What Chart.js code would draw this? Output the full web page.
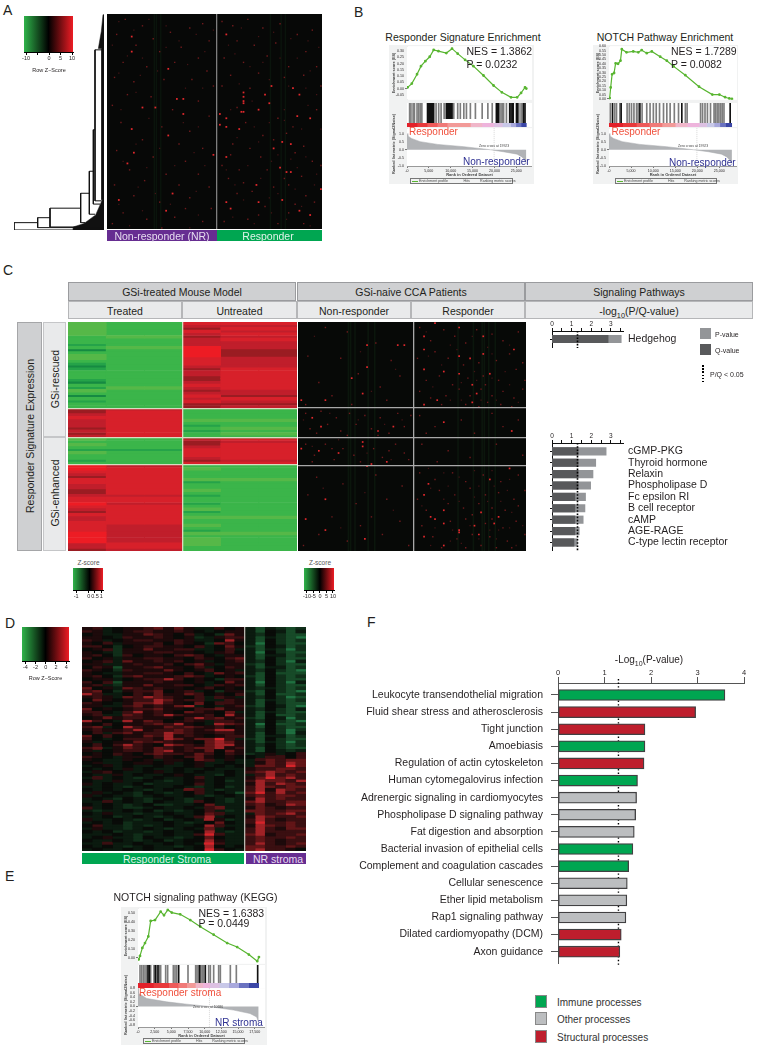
<!DOCTYPE html>
<html>
<head>
<meta charset="utf-8">
<title>Responder signature figure</title>
<script src="https://cdn.jsdelivr.net/npm/chart.js@4/dist/chart.umd.js"></script>
<style>
html,body{margin:0;background:#fff}
#page{position:relative;width:757px;height:1050px;overflow:hidden;font-family:"Liberation Sans",Arial,sans-serif;color:#231f20}
canvas{position:absolute}
.t{position:absolute;white-space:nowrap}
.b{position:absolute;box-sizing:border-box}
sub{font-size:70%;line-height:0}
</style>
</head>
<body>
<div id="page"></div>
<script>
// panel F
const fPathways = ['Leukocyte transendothelial migration','Fluid shear stress and atherosclerosis','Tight junction','Amoebiasis','Regulation of actin cytoskeleton','Human cytomegalovirus infection','Adrenergic signaling in cardiomyocytes','Phospholipase D signaling pathway','Fat digestion and absorption','Bacterial invasion of epithelial cells','Complement and coagulation cascades','Cellular senescence','Ether lipid metabolism','Rap1 signaling pathway','Dilated cardiomyopathy (DCM)','Axon guidance'];
const fValues = [3.59,2.96,1.87,1.87,1.85,1.71,1.69,1.67,1.64,1.61,1.52,1.49,1.48,1.46,1.36,1.33];
const fGroups = ['I','S','S','I','S','I','O','O','O','I','I','O','O','O','S','S'];
const fTicks = [0,1,2,3,4];

// panel C pathway bars
const hedgehogNames = ['Hedgehog'];
const hedgehogP = [3.53];
const hedgehogQ = [2.86];
const pathwayNames = ['cGMP-PKG','Thyroid hormone','Relaxin','Phospholipase D','Fc epsilon RI','B cell receptor','cAMP','AGE-RAGE','C-type lectin receptor'];
const pathwayP = [2.76,2.23,2.09,1.97,1.71,1.68,1.59,1.39,1.29];
const pathwayQ = [1.33,1.33,1.33,1.33,1.17,1.17,1.17,1.17,1.12];
const pathwayTicks = [0,0.5,1,1.5,2,2.5,3,3.5];

// GSEA curves, rank and enrichment score
const es1Rank = [150,1100,2300,3200,4200,5200,6100,7200,9000,10300,11600,13300,15200,17500,19800,21700,23800,25200,26100,27000,27300];
const es1Score = [0.01,0.04,0.115,0.18,0.22,0.255,0.31,0.30,0.285,0.32,0.28,0.23,0.18,0.105,0.025,-0.03,-0.07,-0.07,-0.035,0.01,0];
const es2Rank = [150,380,700,1150,1500,2050,2600,2900,3970,5500,6640,7400,8550,9700,11600,13100,14650,17300,20400,23400,25000,26300,27250,27850];
const es2Score = [0.01,0.13,0.28,0.295,0.405,0.40,0.435,0.565,0.53,0.54,0.53,0.555,0.52,0.54,0.48,0.435,0.37,0.27,0.14,0.05,0.05,0.02,0.005,0];
const es3Rank = [100,300,650,1050,1550,1900,2550,3400,3900,4470,5070,6330,7840,9350,11350,13370,14870,16630,17890,18140];
const es3Score = [-0.02,0.02,0.11,0.165,0.24,0.415,0.425,0.52,0.48,0.54,0.51,0.49,0.425,0.35,0.26,0.165,0.12,0.035,-0.04,0.007];

// GSEA hit positions
const hits1Dark = [4700,5000,5200,5400,5650,5900,6100,9000,9250,9450,9700,9900,10150,10300,20450,20700,21000,23500,23800,24100,24300,25050,25300,26700,27000];
const hits1Gray = [600,900,1400,1700,2300,2700,3050,3400,6650,7250,7800,8500,10700,11600,12200,13000,13600,14500,15650,17200,18500,19500,21500,21800,22100,22750,25600,26100,26400];
const hits2Dark = [800,2750,7000,16500,27450];
const hits2Gray = [300,1300,1700,2450,4100,4600,5100,5650,6250,6600,7500,8550,9300,10050,10700,11450,12350,13100,13850,14800,15750,17300,17700,20750,21200,21750,22300,23000,23800,24100,24500,24900,25300,25650,26050];
const hits3Dark = [1500,1700,2600,3000,6100,9250,10100,17950];
const hits3Gray = [300,550,800,1050,1300,1900,2400,2800,3200,3400,4150,4450,5300,5550,5800,7500,8650,8850,9050,9450,9650,9850,10600,10850,11350,12100,12350,13850,14750];

// GSEA colour strip
const stripColors = ['#e3202a','#e8393b','#ee5a5a','#f07a78','#f29a98','#f0b6c9','#eeb4dc','#dcc0e2','#c8c8e8','#a8a8dc','#6a72c0','#3b46a6'];
const strip1 = [2300,2300,2300,2300,5300,2650,2650,2000,1900,1200,1200,1200];
const strip2 = [3100,3100,2900,2900,3000,2700,2700,1700,1700,1300,1300,1400];
const strip3 = [2300,2300,1400,1300,1300,1100,1050,1450,1400,1500,1500,1500];

// GSEA ranked metric
const metric1Rank = [0,200,1000,3000,7000,13000,19100,22000,25200,26300,27000,27300];
const metric1Value = [1,0.85,0.7,0.5,0.33,0.19,0,-0.12,-0.27,-0.44,-0.65,-0.85];
const metric2Rank = [0,200,1000,3000,7000,13000,19200,22500,25500,26700,27400,27850];
const metric2Value = [1,0.85,0.7,0.5,0.33,0.19,0,-0.12,-0.27,-0.44,-0.65,-0.85];
const metric3Rank = [0,50,1300,4300,7300,10600,14350,16800,17800,18100];
const metric3Value = [0.8,0.58,0.35,0.2,0.1,0,-0.16,-0.31,-0.46,-0.7];

// panel A heatmap cells, [column,row]
const aBright = [[11,10],[11,17],[28,25],[32,39],[35,46],[28,56],[22,43],[16,43],[11,53],[12,64],[5,86],[30,83],[27,91],[35,39],[9,69],[49,65],[55,9],[63,36],[63,38],[63,40],[63,41],[63,45],[62,45],[55,48],[55,52],[52,51],[61,53],[55,66],[76,33],[89,37],[81,59],[77,62],[83,73],[85,73],[80,71],[69,79],[81,86],[55,87],[57,90],[89,91],[94,93],[70,87],[94,48],[75,41],[70,44],[88,47],[85,60],[52,46],[86,34],[73,37],[99,81]];
const aDim = [[8,2],[4,9],[16,5],[21,11],[29,8],[38,6],[44,4],[47,12],[13,14],[24,17],[34,15],[42,20],[7,22],[18,24],[31,22],[46,26],[3,29],[12,31],[26,30],[39,30],[49,33],[9,37],[20,38],[2,42],[30,44],[42,40],[47,47],[6,50],[25,52],[38,54],[16,58],[33,60],[44,62],[4,63],[21,66],[36,68],[10,72],[27,74],[42,74],[17,77],[3,79],[33,79],[47,80],[12,84],[24,87],[38,85],[7,92],[18,95],[31,94],[44,96],[36,90],[2,97],[25,99],[48,90],[53,3],[58,5],[65,2],[72,6],[80,4],[88,9],[95,7],[60,12],[68,14],[78,13],[92,17],[54,20],[63,22],[74,19],[84,24],[97,24],[57,28],[70,27],[82,29],[91,28],[53,33],[66,34],[99,33],[60,43],[79,48],[86,52],[97,44],[64,50],[72,56],[77,58],[83,55],[91,61],[58,60],[66,62],[71,66],[87,64],[95,68],[53,70],[61,72],[74,72],[82,76],[90,75],[56,76],[67,82],[77,80],[84,79],[92,84],[60,83],[73,89],[87,88],[96,87],[54,96],[65,95],[79,97],[91,97],[70,93],[84,92],[99,70],[63,78],[57,65]];
const aFaint = [[5,3],[12,7],[19,2],[27,5],[33,12],[41,9],[49,7],[2,14],[9,19],[16,20],[27,15],[37,23],[45,17],[5,27],[15,28],[23,26],[36,34],[44,34],[13,36],[6,44],[19,48],[35,50],[42,52],[13,60],[24,62],[40,64],[7,68],[18,71],[31,70],[45,70],[14,80],[22,83],[41,82],[5,88],[29,88],[16,91],[42,93],[10,98],[38,99],[56,14],[62,6],[70,10],[77,8],[85,11],[93,12],[98,15],[59,18],[66,24],[72,22],[80,20],[88,20],[94,26],[61,32],[75,30],[84,33],[92,34],[97,37],[67,40],[82,44],[93,42],[57,44],[68,52],[75,50],[82,49],[90,53],[99,53],[60,57],[70,59],[79,65],[85,67],[92,66],[55,72],[65,70],[76,68],[88,71],[97,74],[59,79],[71,76],[79,83],[87,81],[96,79],[63,86],[75,85],[90,89],[58,94],[68,97],[76,92],[83,95],[94,98]];
const aGreenColumns = [22,23,25,76,81,83];

// panel C patient heatmap cells, [column,row]
const pBright = [[1,35],[12,35],[29,32],[6,43],[10,47],[29,54],[29,56],[1,57],[9,58],[33,64],[31,65],[40,63],[18,59],[12,94],[30,98],[3,89],[12,80],[36,49],[43,47],[24,25],[31,20],[31,10],[48,10],[45,10],[57,6],[62,0],[73,2],[84,6],[57,12],[98,12],[84,14],[73,15],[78,16],[57,21],[66,22],[73,23],[87,23],[79,28],[81,32],[57,37],[63,35],[79,36],[66,45],[97,49],[59,73],[57,78],[87,71],[96,66],[66,85],[60,88],[62,89],[66,91],[80,92],[73,94],[73,95],[57,97],[66,101],[82,96],[91,88],[89,91],[83,86]];
const pDim = [[12,2],[22,4],[35,9],[4,15],[19,16],[42,17],[27,23],[9,27],[37,29],[46,24],[15,33],[3,37],[24,37],[40,35],[3,41],[10,40],[17,43],[23,41],[30,42],[37,43],[45,41],[51,42],[5,48],[13,46],[19,49],[26,46],[33,48],[41,50],[48,47],[8,50],[22,51],[36,51],[3,55],[7,60],[12,55],[16,62],[20,57],[25,60],[34,57],[38,61],[44,55],[48,59],[6,63],[15,57],[28,63],[41,58],[50,62],[8,70],[20,73],[35,69],[47,74],[4,78],[26,82],[40,80],[15,88],[33,88],[46,90],[9,96],[22,99],[38,96],[50,101],[28,92],[2,101],[55,2],[60,8],[66,3],[71,6],[76,9],[81,3],[88,5],[93,8],[100,4],[54,16],[62,13],[68,16],[75,19],[82,18],[90,17],[96,14],[102,18],[58,26],[64,24],[70,28],[77,25],[84,24],[85,28],[91,26],[99,21],[103,26],[55,31],[60,34],[67,33],[73,30],[78,33],[83,30],[88,33],[93,31],[98,34],[102,30],[65,37],[76,37],[82,38],[86,36],[92,37],[97,38],[55,42],[62,47],[74,44],[88,41],[100,44],[58,50],[80,50],[93,47],[56,55],[68,58],[78,61],[90,55],[102,60],[63,63],[55,68],[62,71],[70,68],[76,72],[84,69],[92,72],[100,69],[54,80],[64,76],[71,78],[78,75],[85,78],[91,77],[98,80],[103,76],[58,85],[68,82],[75,84],[82,82],[88,84],[94,85],[100,83],[56,92],[69,90],[76,89],[85,91],[93,93],[99,90],[61,97],[72,98],[79,96],[87,97],[95,99],[103,96],[65,102],[76,102],[90,102],[83,101],[97,102],[79,87],[88,89]];
const pFaint = [[7,6],[28,13],[44,21],[33,31],[2,44],[14,41],[27,44],[39,46],[47,44],[6,56],[18,53],[31,59],[42,62],[11,75],[30,77],[43,85],[19,93],[58,4],[69,10],[79,6],[86,11],[96,10],[59,15],[72,12],[88,14],[65,19],[80,22],[94,22],[61,29],[74,27],[81,26],[88,25],[96,28],[69,35],[74,35],[83,35],[90,35],[100,36],[59,66],[66,68],[73,70],[80,67],[88,67],[96,71],[60,75],[68,74],[82,74],[89,74],[95,76],[56,83],[66,80],[73,81],[80,79],[86,81],[92,81],[97,86],[62,93],[70,94],[78,92],[87,94],[91,94],[96,93],[102,92],[69,99],[82,98],[90,98],[74,100],[60,101],[99,101]];
const pGreenColumns = [23,24,26,32,35,73,80,84,85,87,90];

// panel C mouse model heatmap, one letter per row
const mouseT1 = 'lllllmmmnmomllmnonmmmnomnlmomnmm'+'UUTSTTTUTUT'+'lmlmnlmmnm'+'RRSTUSSTTUUTSSRSTUSTTSSSSRRRRTTU';
const mouseT2 = 'mmmmmlmmmlmmmmmmmmmmmmmmlmmmmmmm'+'TSSSSSSSSSS'+'mmmmnmmmmm'+'TSSSSSSSSSSTSSTSSSSSSSTTTTTTTSST';
const mouseU1 = 'STUSTUTTTRRRRSSSTUTTUUTSTUTSTSUU'+'mmmmlmnmnmm'+'TUUTSSSTUS'+'mlmmmlnmmlmnmmnmlnmlmmlmnlmlllmm';
const mouseU2 = 'STSTSTSTTTUUUTTTTSSSSSSSSTTUSTUT'+'mmmmlmmlmlm'+'STSSSSSSTS'+'mmmmmlmmmmmmmmmmmmmlmmmmmlmmmmmm';
const mouseColumns = [mouseT1,mouseT2,mouseT2,mouseU1,mouseU2,mouseU2];
const mouseShades = {l:'#56b848',m:'#3bb54a',n:'#25a349',o:'#168a42',R:'#ed1c24',S:'#d7202a',T:'#c01e2b',U:'#9a1c22'};

// panel D heatmap, 16 responder and 6 NR columns, one string per row
const dRows = [
'abh.aabcacahhb.a|hjhiji','bah.abbaaba.h.aa|hj.hjh','.ahhaacba.bh.ica|hi.ijj','aa.hbaaba.aihabb|hjhijk',
'bah.abbaabahh.da|hj.iji','a.bhaaab.ba.icb.|hk.ijj','bb.i.abbaa.bh.ca|ij.hji','.abiaacaabbhh.bh|hjhiki',
'a.hiaaabbaa.hab.|hk.ijj','ab.ib.aa.bcb.haa|hjhhji','b.ahaabbaa.ba.bc|hj.ijj','.abhcaabab.ah.ab|hi.ikh',
'aahhabaab.bcahaa|ij.ijj','.bajaabcaa.bh.ba|hjhhji','ba.ibaaaca.ab.ah|hi.ijk','a.hhaabba.b.hcab|hj.jjj',
'ab.ibcaaabcbh.a.|ij.iji','.aah.abbdb.a.ibb|hj.ijj','b.bjaaabaa.ah.ca|hk.ikh','abhiaacaabb.hbab|hj.ijj',
'c.ahcbabaa.ab.a.|hihiji','bc.iabbc.abh.iaa|ij.ijk','dbhh.bacaacb.a.b|hj.jji','abahcbdcba.bhbah|hi.ikj',
'.ca.abbdcabbhhba|hjhiji','ba.haccdba.c.bba|hj.ijj','aahhbcabacdh.hab|ij.hjk','c.a.abbcaa.bbcaa|hi.ijh',
'bb.hbdaba.cba.ch|hjhijj','abhhcbabdbaab.da|hj.jji','.acabbaaa.bdbcab|ij.hki','db.hdacb.abahbba|hi.ijk',
'a.b.aabcbda.hdcb|hk.jji','bch.dbaacbcbab.a|hj.ijj','abaabdabbcbabdda|hi.iki','.bhbcabbdcbaabba|hj.ikh',
'c.b.aacbdaba.abb|hjhhji','b.h.bbbadcaccebh|ij.ijj','ah.aacbcbaa.cdca|hjhiki','.b.bdba.dcbacdda|hi.iji',
'bchacbacbabccdab|hj.ijj','ah.abbacdabac.ca|hj.hih','.a.ba.bcbbacb.ba|ihah.b','ba.haa.ba.bca.a.|.hbb.b',
'a.hha.ahaa.cbhah|hbcbcc','.ahh.aa.ah.ahh.h|hacbdc','h.ah.hh.hh.ah.h.|hccbec','.h.hah.hh.hh.hhh|abbccb',
'hab.hh.ah.h.hh.h|bcdcbc','.hhah.hh.a.hhi.h|hbdbcb','hbh.hih.hh.bh.hh|acecdb','.hhahh.hih.ah.ih|bdccbd',
'ah.hh.ihhh.bh.hh|adbdcb','hh.hih.hh.hih.ih|bdcbcc','.h.h.hih.hcbhihh|bdadcb','hah.hi.hih.bh.hj|cebdbc',
'ah.hhih.hh.hih.h|bcbccb','h.hi.hih.hih.hih|adbcbb','hhbh.hi.hhib.hih|cdbbcc','.h.hih.iihh.chhh|bcabdc',
'bh.hiih.hh.hbchh|acbabb','hihh.h.ihih.bhih|ccbbcc','.hahhihh.hh.cbhh|hcbcdb','hh.ih.hih.hbdh.h|adcbbc',
'ahh.hih.ih.hdaih|bdbabb','h.h.ihhh.hih.c.h|bebbcb','.bhhihih.hh.dbhh|adcbcb','hahhih.hih.hch.h|bdbacc',
'.h.ihhih.hh.dhih|bdbbbb','hhh.hihh.hhbebhh|cdabbc','h.ahhi.hhih.c.hh|bcbbcb','.hh.hih.ih..dahh|bcbabb',
'hhbhh.hh.h.hebhh|bdbabc','.h.hih.hhih.d.h.|ccbbcb','h.hh.h.hh.h.eb.h|cdbba.'];
const dShades = {'.':'#090b08',a:'#1d0a0b',b:'#3a0f11',c:'#621517',d:'#a02226',e:'#d6242a',h:'#0b1a0f',i:'#102e19',j:'#174a28',k:'#1f7040'};

// dendrogram, [height,row] polylines
const dendroLinks = [
[[199,96.6],[270,96.6],[270,100],[0,100]],
[[162,94.3],[199,94.3],[199,98.9],[0,98.9]],
[[70,89.9],[162,89.9],[162,98.6],[0,98.6]],
[[44,83],[70,83],[70,96.6],[57,96.6]],
[[32,72.8],[44,72.8],[44,92.7],[27,92.7]],
[[27,53.6],[32,53.6],[32,88],[12,88]],
[[7,16.6],[27,16.6],[27,86.5],[7,86.5]]];
const dendroWedges = [
[[0,0.3],[3,0.3],[8,8],[17,16],[7,16],[7,86],[5,86],[25,93],[60,97],[92,98.6],[92,100],[0,100]]];

const page = document.getElementById('page');
Chart.defaults.responsive = false;
Chart.defaults.maintainAspectRatio = false;
Chart.defaults.animation = false;
Chart.defaults.layout.autoPadding = false;
Chart.defaults.plugins.legend.display = false;
Chart.defaults.plugins.tooltip.enabled = false;
Chart.defaults.font.family = '"Liberation Sans", Arial, sans-serif';
Chart.defaults.color = '#231f20';

Chart.register({
    id: 'plotBg',
    beforeDatasetsDraw(chart, args, opts) {
        if (!opts.color) return;
        const a = chart.chartArea;
        chart.ctx.save();
        chart.ctx.fillStyle = opts.color;
        chart.ctx.fillRect(a.left, a.top, a.width, a.height);
        chart.ctx.restore();
    }
});

function marker(chart, opts) {
    const a = chart.chartArea;
    const px = chart.scales.x.getPixelForValue(opts.value);
    const c = chart.ctx;
    c.save();
    c.strokeStyle = opts.color || '#000';
    c.lineWidth = opts.width || 1;
    c.setLineDash(opts.dash || [1.5, 1.5]);
    c.beginPath();
    c.moveTo(px, a.top - (opts.top || 0));
    c.lineTo(px, a.bottom + (opts.bottom || 0));
    c.stroke();
    c.restore();
}
Chart.register({
    id: 'marker',
    beforeDatasetsDraw(chart, args, opts) { if (opts.value !== undefined && opts.under) marker(chart, opts); },
    afterDatasetsDraw(chart, args, opts) { if (opts.value !== undefined && !opts.under) marker(chart, opts); }
});

function label(txt, x, y, size, o) {
    o = o || {};
    const d = document.createElement('div');
    d.className = 't';
    d.innerHTML = txt;
    d.style.left = x + 'px';
    d.style.top = y + 'px';
    d.style.fontSize = size + 'px';
    if (o.color) d.style.color = o.color;
    if (o.weight) d.style.fontWeight = o.weight;
    const tx = o.align === 'c' ? '-50%' : o.align === 'r' ? '-100%' : '0';
    d.style.transform = 'translate(' + tx + ',-50%)' + (o.rot ? ' rotate(' + o.rot + 'deg)' : '');
    page.appendChild(d);
}
function box(x, y, w, h, bg, border) {
    const d = document.createElement('div');
    d.className = 'b';
    d.style.cssText = 'left:' + x + 'px;top:' + y + 'px;width:' + w + 'px;height:' + h + 'px;background:' + bg + (border ? ';border:1px solid ' + border : '');
    page.appendChild(d);
}
function draw(x, y, w, h, cfg) {
    const c = document.createElement('canvas');
    c.width = w;
    c.height = h;
    c.style.left = x + 'px';
    c.style.top = y + 'px';
    page.appendChild(c);
    return new Chart(c, cfg);
}
function pts(xs, ys) { return xs.map((v, i) => ({x: v, y: ys[i]})); }
function stepTicks(min, max, step) {
    const out = [];
    for (let k = Math.ceil(min / step - 1e-9); k * step <= max + 1e-9; k++) out.push({value: k * step});
    return out;
}
function hidden(min, max, extra) {
    return Object.assign({type: 'linear', display: false, min: min, max: max, offset: false, grid: {offset: false}}, extra || {});
}
// axis that only draws divider lines over the cells
function dividers(min, max, lines, color, reverse) {
    return {
        type: 'linear', min: min, max: max, reverse: !!reverse, offset: false,
        afterBuildTicks: s => { s.ticks = lines.map(v => ({value: v})); },
        afterFit: s => { if (s.isHorizontal()) s.height = 0; else s.width = 0; },
        ticks: {display: false},
        border: {display: false},
        grid: {offset: false, z: 1, color: color, lineWidth: 1.3, drawTicks: false}
    };
}
function cellBars(shades, cellAt, cols, rows) {
    return Object.keys(shades).map(ch => {
        const data = [];
        for (let c = 0; c < cols; c++) {
            for (let r = 0; r < rows; r++) {
                if (cellAt(c, r) === ch) data.push({x: c + 0.5, y: [r, r + 1]});
            }
        }
        return {data: data, backgroundColor: shades[ch], grouped: false, barPercentage: 1, categoryPercentage: 1, borderWidth: 0};
    });
}
function dotSet(cells, color, radius) {
    return {data: cells.map(c => ({x: c[0] + 0.5, y: c[1] + 0.5})), backgroundColor: color, pointStyle: 'rect', pointRadius: radius, pointBorderWidth: 0};
}
function columnBands(cols, rows, color, width) {
    return cols.map(c => ({data: [{x: c, y: 0}, {x: c, y: rows}], showLine: true, borderColor: color, borderWidth: width, pointRadius: 0}));
}
function colorKey(x, y, w, h, min, max, ticks, black, tickLabels) {
    const green = '#2fb34a', red = '#ed1c24';
    draw(x - 8, y, w + 16, h + 16, {
        type: 'bar',
        data: {labels: ['key'], datasets: [{
            data: [[min, max]],
            barPercentage: 1, categoryPercentage: 1,
            backgroundColor(ctx) {
                const a = ctx.chart.chartArea;
                if (!a) return '#000';
                const g = ctx.chart.ctx.createLinearGradient(a.left, 0, a.right, 0);
                g.addColorStop(0, green);
                g.addColorStop(black, '#000');
                g.addColorStop(1, red);
                return g;
            }
        }]},
        options: {
            indexAxis: 'y',
            layout: {padding: {left: 8, right: 8}},
            scales: {
                y: {display: false},
                x: {
                    type: 'linear', min: min, max: max,
                    afterBuildTicks: s => { s.ticks = ticks.map(v => ({value: v})); },
                    afterFit: s => { s.height = 16; },
                    ticks: {font: {size: 5.5}, padding: 0, maxRotation: 0, autoSkip: false, callback: v => tickLabels.includes(v) ? String(v) : ''},
                    border: {color: '#000'},
                    grid: {drawOnChartArea: false, tickLength: 3, color: '#000', offset: false}
                }
            }
        }
    });
}

function gsea(g) {
    box(g.panel[0], g.panel[1], g.panel[2], g.panel[3], '#f1f2f2');
    const w = g.x1 - g.x0;
    const tickFont = {size: 3.6};
    const yAxis = (min, max, step, digits) => ({
        type: 'linear', min: min, max: max,
        afterBuildTicks: s => { s.ticks = stepTicks(min, max, step); },
        afterFit: s => { s.width = 14; },
        ticks: {font: tickFont, padding: 1, autoSkip: false, callback: v => v.toFixed(digits)},
        border: {color: '#999'},
        grid: {tickLength: 2, color: c => Math.abs(c.tick.value) < 1e-6 ? '#777' : '#f2f2f2'}
    });
    draw(g.x0 - 14, g.esTop - 3, w + 14, g.esBot - g.esTop + 6, {
        type: 'line',
        data: {datasets: [{data: pts(g.esRank, g.esScore), borderColor: '#58b530', borderWidth: 1.2, backgroundColor: '#58b530', pointRadius: 0.8, tension: 0}]},
        options: {
            layout: {padding: {top: 3, bottom: 3}},
            plugins: {plotBg: {color: '#fff'}},
            scales: {x: hidden(0, g.xMax), y: yAxis(g.esMin, g.esMax, g.esStep, 2)}
        }
    });
    const hitSet = (list, color) => ({data: list.map(v => ({x: v, y: 1})), backgroundColor: color, barThickness: 1, borderWidth: 0});
    draw(g.x0, g.hitsTop, w, g.stripTop - g.hitsTop, {
        type: 'bar',
        data: {datasets: [hitSet(g.hitsDark, '#111'), hitSet(g.hitsGray, '#7d7d7d')]},
        options: {
            plugins: {plotBg: {color: '#fff'}},
            datasets: {bar: {grouped: false}},
            scales: {x: hidden(0, g.xMax), y: hidden(0, 1)}
        }
    });
    draw(g.x0, g.stripTop, w, g.stripBot - g.stripTop, {
        type: 'bar',
        data: {labels: ['rank'], datasets: g.strip.map((v, i) => ({data: [v], backgroundColor: stripColors[i], barPercentage: 1, categoryPercentage: 1, borderWidth: 0}))},
        options: {
            indexAxis: 'y',
            plugins: {plotBg: {color: '#fff'}},
            scales: {
                x: {type: 'linear', display: false, stacked: true, min: 0, max: g.xMax},
                y: {display: false, stacked: true}
            }
        }
    });
    draw(g.x0 - 14, g.metTop - 3, w + 14, g.metBot - g.metTop + 11, {
        type: 'line',
        data: {datasets: [{data: pts(g.metRank, g.metValue), borderColor: '#a7a9ac', borderWidth: 0.5, backgroundColor: '#b1b3b6', fill: 'origin', pointRadius: 0, tension: 0}]},
        options: {
            layout: {padding: {top: 3}},
            plugins: {plotBg: {color: '#fff'}, marker: {value: g.zeroCross, color: '#bbb', width: 0.6, dash: [1, 1]}},
            scales: {
                x: {
                    type: 'linear', min: 0, max: g.xMax,
                    afterBuildTicks: s => { s.ticks = stepTicks(0, g.xMax, g.rankStep); },
                    afterFit: s => { s.height = 8; },
                    ticks: {font: tickFont, padding: 1, maxRotation: 0, autoSkip: false, callback: v => v.toLocaleString('en-US')},
                    border: {color: '#999'},
                    grid: {drawOnChartArea: false, tickLength: 2, color: '#777'}
                },
                y: yAxis(g.metMin, g.metMax, g.metStep, 1)
            }
        }
    });
    const left = g.panel[0] + 5;
    label('Enrichment score (ES)', left, (g.esTop + g.esBot) / 2, 3.8, {align: 'c', rot: -90, weight: 700, color: '#444'});
    label('Ranked list metric (Signal2Noise)', left, (g.metTop + g.metBot) / 2 - 3, 3.8, {align: 'c', rot: -90, weight: 700, color: '#444'});
    label('Zero cross at ' + g.zeroCross, g.zeroX, g.zeroY, 3.4, {align: 'c', color: '#444'});
    label('Rank in Ordered Dataset', (g.x0 + g.x1) / 2, g.metBot + 8, 4, {align: 'c', weight: 700, color: '#444'});
    box(g.legend[0], g.legend[1], g.legend[2], g.legend[3], '#f1f2f2', '#777');
    const ly = g.legend[1] + g.legend[3] / 2;
    box(g.legend[0] + 2, ly - 0.5, 6, 1, '#58b530');
    label('Enrichment profile', g.legend[0] + 9, ly, 3.6, {color: '#444'});
    label('Hits', g.legend[0] + g.legend[2] * 0.52, ly, 3.6, {color: '#444'});
    label('Ranking metric scores', g.legend[0] + g.legend[2] * 0.68, ly, 3.6, {color: '#444'});
    label(g.title, g.titleX, g.titleY, 10.5, {align: 'c'});
    label(g.nes, g.nesX, g.nesY, 10.5);
    label(g.p, g.nesX, g.pY, 10.5);
    label(g.up, g.upX, g.upY, 10, {color: '#f0503c'});
    label(g.down, g.downX, g.downY, 10, {color: '#2e3192'});
}

// ---- panel letters
label('A', 3, 10, 14);
label('B', 354, 12, 14);
label('C', 3, 270, 14);
label('D', 5, 623, 14);
label('E', 5, 876, 14);
label('F', 367, 622, 14);

// ---- panel A
colorKey(24, 16, 49, 36, -10.9, 10.4, [-10, -5, 0, 5, 10], 0.5, [-10, 0, 5, 10]);
label('Row Z−Score', 49, 70, 5.5, {align: 'c'});
draw(14, 14, 90, 216, {
    type: 'scatter',
    data: {datasets: dendroLinks.map(p => ({data: p.map(q => ({x: q[0], y: q[1]})), showLine: true, borderColor: '#111', borderWidth: 1, pointRadius: 0}))
        .concat(dendroWedges.map(p => ({data: p.map(q => ({x: q[0], y: q[1]})), showLine: true, fill: 'shape', backgroundColor: '#111', borderColor: '#111', borderWidth: 0.5, pointRadius: 0})))},
    options: {scales: {x: hidden(0, 270, {reverse: true}), y: hidden(0, 100, {reverse: true})}}
});
draw(107, 14, 215, 215, {
    type: 'scatter',
    data: {datasets: [dotSet(aBright, '#e0282c', 1.25), dotSet(aDim, '#6e1a1c', 1), dotSet(aFaint, '#431416', 0.9)]
        .concat(columnBands(aGreenColumns, 100, '#0a140c', 1.4))},
    options: {
        plugins: {plotBg: {color: '#070807'}},
        scales: {x: dividers(0, 100, [51], '#7e7e7e'), y: dividers(0, 100, [], '#000', true)}
    }
});
box(107, 230, 110, 11, '#662d91');
box(217, 230, 105, 11, '#00a651');
label('Non-responder (NR)', 162, 235.5, 10.5, {align: 'c', color: '#e6dcef'});
label('Responder', 268, 235.5, 10.5, {align: 'c', color: '#dff3e8'});

// ---- panel B
gsea({
    panel: [389, 45, 145, 139], x0: 407, x1: 532, esTop: 46, esBot: 100, hitsTop: 103, stripTop: 123, stripBot: 127, metTop: 128, metBot: 166,
    xMax: 28600, esMin: -0.09, esMax: 0.34, esStep: 0.05, metMin: -1, metMax: 1.33, metStep: 0.5, rankStep: 5000,
    esRank: es1Rank, esScore: es1Score, hitsDark: hits1Dark, hitsGray: hits1Gray, strip: strip1, metRank: metric1Rank, metValue: metric1Value,
    zeroCross: 19923, zeroX: 494, zeroY: 146, legend: [410, 178, 103, 6],
    title: 'Responder Signature Enrichment', titleX: 463, titleY: 37,
    nes: 'NES = 1.3862', p: 'P = 0.0232', nesX: 466.5, nesY: 51, pY: 64,
    up: 'Responder', upX: 409, upY: 131, down: 'Non-responder', downX: 463, downY: 161
});
box(442, 119, 48, 4, '#fff');
gsea({
    panel: [593, 45, 145, 139], x0: 609, x1: 737, esTop: 46, esBot: 100, hitsTop: 103, stripTop: 123, stripBot: 127, metTop: 128, metBot: 166,
    xMax: 29000, esMin: -0.01, esMax: 0.6, esStep: 0.05, metMin: -1, metMax: 1.33, metStep: 0.5, rankStep: 5000,
    esRank: es2Rank, esScore: es2Score, hitsDark: hits2Dark, hitsGray: hits2Gray, strip: strip2, metRank: metric2Rank, metValue: metric2Value,
    zeroCross: 19923, zeroX: 693, zeroY: 146, legend: [615, 178, 102, 6],
    title: 'NOTCH Pathway Enrichment', titleX: 665, titleY: 37,
    nes: 'NES = 1.7289', p: 'P = 0.0082', nesX: 671, nesY: 51, pY: 64,
    up: 'Responder', upX: 611.5, upY: 131, down: 'Non-responder', downX: 669, downY: 162
});

// ---- panel C headers
[[68, 282, 228, 'GSi-treated Mouse Model'], [297, 282, 228, 'GSi-naive CCA Patients'], [525, 282, 228, 'Signaling Pathways']].forEach(h => {
    box(h[0], h[1], h[2], 19, '#cfd0d2', '#9a9b9e');
    label(h[3], h[0] + h[2] / 2, h[1] + 9.5, 10.5, {align: 'c'});
});
[[68, 114, 'Treated'], [182, 115, 'Untreated'], [297, 114, 'Non-responder'], [411, 114, 'Responder'], [525, 228, '-log<sub>10</sub>(P/Q-value)']].forEach(h => {
    box(h[0], 301, h[1], 18, '#e9eaeb', '#b5b6b8');
    label(h[2], h[0] + h[1] / 2, 311, 10.5, {align: 'c'});
});
box(17, 322, 25, 229, '#cfd0d2', '#a5a6a8');
box(43, 322, 23, 115, '#e9eaeb', '#c5c6c8');
box(43, 437, 23, 114, '#e9eaeb', '#c5c6c8');
label('Responder Signature Expression', 29.5, 436, 10.5, {align: 'c', rot: -90});
label('GSi-rescued', 55, 379, 10.5, {align: 'c', rot: -90});
label('GSi-enhanced', 55, 493, 10.5, {align: 'c', rot: -90});

// ---- panel C heatmaps
draw(68, 322, 229, 229, {
    type: 'bar',
    data: {datasets: cellBars(mouseShades, (c, r) => mouseColumns[c][r], 6, 85)},
    options: {scales: {
        x: dividers(0, 6, [3], '#d8dcc0'),
        y: dividers(0, 85, [32, 43, 53], '#d8dcc0', true)
    }}
});
draw(298, 322, 228, 229, {
    type: 'scatter',
    data: {datasets: [dotSet(pBright, '#e0282c', 1.2), dotSet(pDim, '#6e1a1c', 1), dotSet(pFaint, '#431416', 0.9)]
        .concat(columnBands(pGreenColumns, 104, 'rgba(22,54,28,0.3)', 1.6))},
    options: {
        plugins: {plotBg: {color: '#070907'}},
        scales: {
            x: dividers(0, 104, [52.7], '#a8a8a8'),
            y: dividers(0, 104, [39, 52.4, 65.3], '#a8a8a8', true)
        }
    }
});
label('Z-score', 88.5, 562, 6.5, {align: 'c', color: '#555'});
colorKey(73, 568, 30, 22, -1.25, 1.14, [-1, 0, 0.5, 1], 0.55, [-1, 0, 0.5, 1]);
label('Z-score', 320, 562, 6.5, {align: 'c', color: '#555'});
colorKey(304, 568, 30, 22, -12.3, 10.8, [-10, -5, 0, 5, 10], 0.53, [-10, -5, 0, 5, 10]);

// ---- panel C pathway bars
function pathwayChart(y, h, top, names, pv, qv, min, max) {
    const row = list => list.map((v, i) => ({x: v, y: i}));
    const rowTicks = s => { s.ticks = names.map((n, i) => ({value: i})); };
    draw(540, y, 217, h, {
        type: 'bar',
        data: {datasets: [
            {data: row(qv), backgroundColor: '#58595b', barThickness: 7.5, grouped: false, yAxisID: 'y'},
            {data: row(pv), backgroundColor: '#939598', barThickness: 7.5, grouped: false, yAxisID: 'y'}
        ]},
        options: {
            indexAxis: 'y',
            layout: {padding: {bottom: 12}},
            plugins: {marker: {value: 1.3, width: 1.6, dash: [1.6, 1.6], top: 0, bottom: 1}},
            scales: {
                x: {
                    type: 'linear', position: 'top', min: 0, max: 3.62, offset: false,
                    afterBuildTicks: s => { s.ticks = pathwayTicks.map(v => ({value: v})); },
                    afterFit: s => { s.height = top; },
                    ticks: {font: {size: 6.5}, padding: 0, maxRotation: 0, autoSkip: false, callback: v => Number.isInteger(v) ? String(v) : ''},
                    border: {color: '#111', width: 1},
                    grid: {offset: false, drawOnChartArea: false, tickLength: 3, color: '#111'}
                },
                y: {
                    type: 'linear', position: 'left', min: min, max: max, reverse: true, offset: false,
                    afterBuildTicks: rowTicks,
                    afterFit: s => { s.width = 12; },
                    ticks: {display: false},
                    border: {color: '#111', width: 1},
                    grid: {offset: false, drawOnChartArea: false, tickLength: 2, color: '#111'}
                },
                y2: {
                    type: 'linear', position: 'right', min: min, max: max, reverse: true, offset: false,
                    afterBuildTicks: rowTicks,
                    afterFit: s => { s.width = 134; },
                    ticks: {font: {size: 10.5}, padding: 5, autoSkip: false, color: '#231f20', callback: v => names[v]},
                    border: {display: false},
                    grid: {display: false, drawTicks: false, offset: false}
                }
            }
        }
    });
}
pathwayChart(316, 43, 15, hedgehogNames, hedgehogP, hedgehogQ, -1, 1);
pathwayChart(428, 134, 15, pathwayNames, pathwayP, pathwayQ, -0.73, 8.66);
box(700, 328, 11, 11, '#939598');
box(700, 344, 11, 11, '#58595b');
label('P-value', 715, 334, 7);
label('Q-value', 715, 350, 7);
label('P/Q &lt; 0.05', 710, 374, 7);
box(702, 365, 2, 17, 'repeating-linear-gradient(#000 0 1.6px,transparent 1.6px 3.2px)');

// ---- panel D
colorKey(22, 627, 47, 34, -4.65, 4.55, [-4, -2, 0, 2, 4], 0.5, [-4, -2, 0, 2, 4]);
label('Row Z−Score', 45.5, 678, 5.5, {align: 'c'});
const dCells = dRows.map(r => r.replace('|', ''));
draw(82, 627, 224, 224, {
    type: 'bar',
    data: {datasets: cellBars(dShades, (c, r) => dCells[r][c], 22, dRows.length)},
    options: {
        plugins: {plotBg: {color: '#090b08'}},
        scales: {
            x: dividers(0, 22, [16], '#b8b8b0'),
            y: dividers(0, dRows.length, [], '#000', true)
        }
    }
});
box(82, 853, 162, 11, '#00a651');
box(246, 853, 60, 11, '#662d91');
label('Responder Stroma', 167, 858.5, 10.5, {align: 'c', color: '#dff3e8'});
label('NR stroma', 278, 858.5, 10.5, {align: 'c', color: '#e6dcef'});

// ---- panel E
gsea({
    panel: [121, 907, 146, 138], x0: 138, x1: 265, esTop: 908, esBot: 964, hitsTop: 965, stripTop: 983, stripBot: 988, metTop: 988, metBot: 1027,
    xMax: 19050, esMin: -0.07, esMax: 0.56, esStep: 0.1, metMin: -0.9, metMax: 0.8, metStep: 0.2, rankStep: 2500,
    esRank: es3Rank, esScore: es3Score, hitsDark: hits3Dark, hitsGray: hits3Gray, strip: strip3, metRank: metric3Rank, metValue: metric3Value,
    zeroCross: 10686, zeroX: 208, zeroY: 1007, legend: [143, 1038, 102, 6],
    title: 'NOTCH signaling pathway (KEGG)', titleX: 195.5, titleY: 896.5,
    nes: 'NES = 1.6383', p: 'P = 0.0449', nesX: 198.5, nesY: 913, pY: 923,
    up: 'Responder stroma', upX: 139, upY: 992, down: 'NR stroma', downX: 215, downY: 1022
});

// ---- panel F
const groupColors = {I: '#00a651', S: '#be1e2d', O: '#bcbec0'};
draw(340, 664, 410, 314, {
    type: 'bar',
    data: {datasets: [{
        data: fValues.map((v, i) => ({x: v, y: i})),
        backgroundColor: fGroups.map(g => groupColors[g]),
        borderColor: '#414042',
        borderWidth: 1.3,
        borderSkipped: false,
        barThickness: 11
    }]},
    options: {
        indexAxis: 'y',
        layout: {padding: {right: 6, bottom: 15}},
        plugins: {marker: {value: 1.3, under: true, width: 1.4, dash: [1.4, 2.2], top: 4, bottom: 4}},
        scales: {
            x: {
                type: 'linear', position: 'top', min: 0, max: 4, offset: false,
                afterBuildTicks: s => { s.ticks = fTicks.map(v => ({value: v})); },
                afterFit: s => { s.height = 19; },
                ticks: {font: {size: 7.5}, padding: 0, maxRotation: 0},
                border: {color: '#555', width: 1},
                grid: {offset: false, drawOnChartArea: false, tickLength: 6, color: '#555'}
            },
            y: {
                type: 'linear', min: -0.7, max: 15.66, reverse: true, offset: false,
                afterBuildTicks: s => { s.ticks = fPathways.map((n, i) => ({value: i})); },
                afterFit: s => { s.width = 218; },
                ticks: {font: {size: 10.5}, padding: 8, autoSkip: false, color: '#231f20', callback: v => fPathways[v]},
                border: {color: '#555', width: 1},
                grid: {offset: false, drawOnChartArea: false, tickLength: 7, color: '#555'}
            }
        }
    }
});
label('-Log<sub>10</sub>(P-value)', 649, 659, 10, {align: 'c'});
[[995, '#00a651', 'Immune processes'], [1012, '#bcbec0', 'Other processes'], [1030, '#be1e2d', 'Structural processes']].forEach(l => {
    box(535, l[0], 12, 13, l[1], '#888');
    label(l[2], 557, l[0] + 6.5, 10, {color: '#333'});
});
</script>
</body>
</html>
